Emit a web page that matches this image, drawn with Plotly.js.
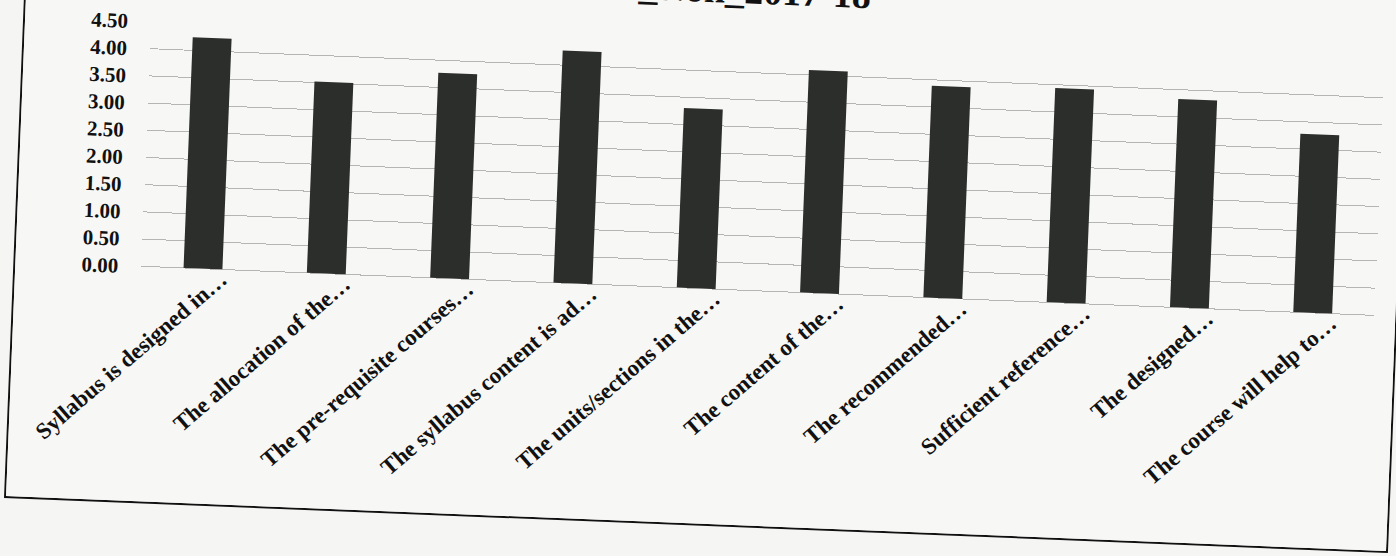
<!DOCTYPE html>
<html>
<head>
<meta charset="utf-8">
<script src="https://cdn.plot.ly/plotly-3.0.1.min.js"></script>
<style>
  html, body { margin: 0; padding: 0; width: 1396px; height: 556px; overflow: hidden; background: #f5f5f3; }
  #frame {
    position: absolute; left: 4px; top: -67px; width: 1385px; height: 565px;
    box-sizing: border-box; border: 2px solid #111;
    transform-origin: 0 100%; transform: rotate(2.28deg);
    background: #f7f7f5;
  }
  #chart { width: 1381px; height: 561px; }
</style>
</head>
<body>
<div id="frame"><div id="chart"></div></div>
<script>
const titleText = "_Non_2017-18";
const categories = [
  "Syllabus is designed in…",
  "The allocation of the…",
  "The pre-requisite courses…",
  "The syllabus content is ad…",
  "The units/sections in the…",
  "The content of the…",
  "The recommended…",
  "Sufficient reference…",
  "The designed…",
  "The course will help to…"
];
const values = [4.24, 3.52, 3.77, 4.27, 3.30, 4.09, 3.89, 3.94, 3.83, 3.28];
const yTicks = [0, 0.5, 1, 1.5, 2, 2.5, 3, 3.5, 4, 4.5];

const serif = "Liberation Serif, Times New Roman, serif";

Plotly.newPlot('chart', [{
  type: 'bar',
  x: categories,
  y: values,
  marker: { color: '#2b2e2b' },
  hoverinfo: 'skip'
}], {
  width: 1381, height: 561,
  paper_bgcolor: '#f7f7f5', plot_bgcolor: '#f7f7f5',
  margin: { l: 126, r: 21, t: 81, b: 235 },
  bargap: 0.685,
  showlegend: false,
  title: {
    text: titleText,
    font: { family: serif, size: 38, weight: 700, color: '#111' },
    xref: 'paper', x: 0.488, xanchor: 'center',
    yref: 'container', y: 0.93, yanchor: 'bottom'
  },
  xaxis: {
    type: 'category',
    tickangle: -43,
    tickfont: { family: serif, size: 23, weight: 700, color: '#111' },
    showgrid: false, showline: false, ticks: '', zeroline: false,
    ticklabelstandoff: -9,
    ticklabelshift: 18
  },
  yaxis: {
    range: [0, 4.5],
    tickvals: yTicks,
    tickformat: '.2f',
    tickfont: { family: serif, size: 21, weight: 700, color: '#111' },
    showgrid: true, gridcolor: '#b5b5b5', gridwidth: 1,
    zeroline: true, zerolinecolor: '#b5b5b5', zerolinewidth: 1,
    showline: false, ticks: '',
    ticklabelstandoff: 22
  }
}, { displayModeBar: false, staticPlot: true });
</script>
</body>
</html>
